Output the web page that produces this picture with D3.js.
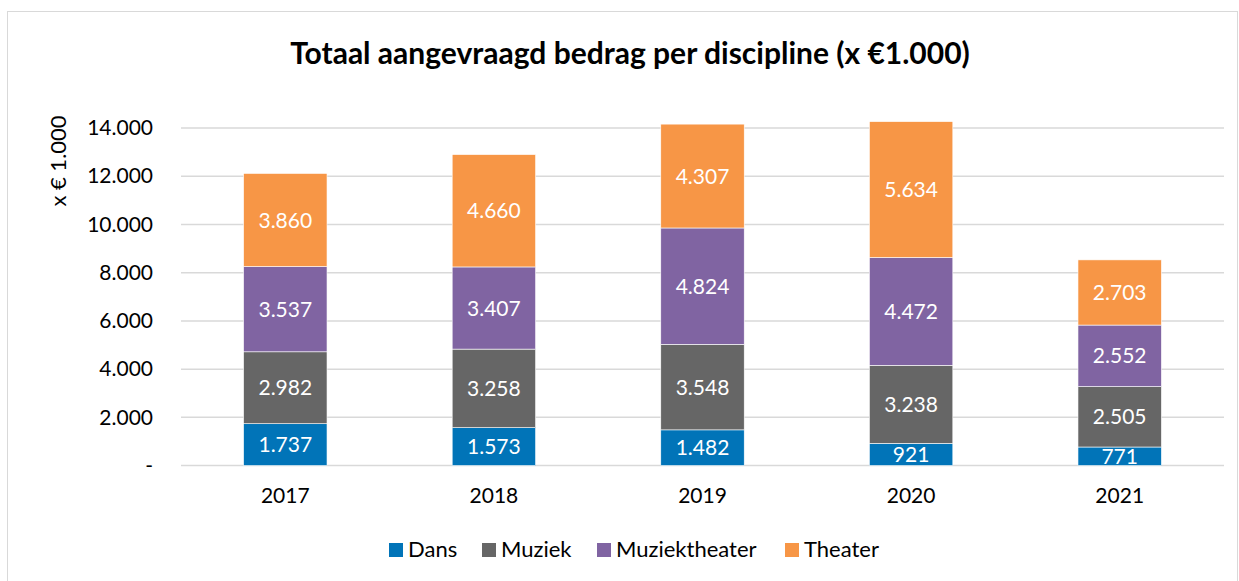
<!DOCTYPE html>
<html>
<head>
<meta charset="utf-8">
<script src="https://cdn.jsdelivr.net/npm/d3@7"></script>
<style>
    body { margin: 0; background: #fff; }
    svg { font-family: Lato, "Open Sans", sans-serif; }
</style>
</head>
<body>
<svg id="chart"></svg>
<script>
// data
var years = ["2017", "2018", "2019", "2020", "2021"];
var disciplines = ["Dans", "Muziek", "Muziektheater", "Theater"];
var dans = [1737, 1573, 1482, 921, 771];
var muziek = [2982, 3258, 3548, 3238, 2505];
var muziektheater = [3537, 3407, 4824, 4472, 2552];
var theater = [3860, 4660, 4307, 5634, 2703];
var yTicks = [0, 2000, 4000, 6000, 8000, 10000, 12000, 14000];
var colors = ["#0174b8", "#666666", "#8064a2", "#f79646"];

var W = 1239, H = 581;
var margin = {top: 128, right: 15, bottom: 116, left: 181};
var width = W - margin.left - margin.right,
    height = H - margin.top - margin.bottom;

var nl = d3.formatLocale({decimal: ",", thousands: ".", grouping: [3], currency: ["€", ""]});
var fmt = nl.format(",d");

var rows = years.map(function (y, i) {
    return {year: y, Dans: dans[i], Muziek: muziek[i], Muziektheater: muziektheater[i], Theater: theater[i]};
});
var stacked = d3.stack().keys(disciplines)(rows);

var svg = d3.select("#chart").attr("width", W).attr("height", H);

// chart border
svg.append("rect")
    .attr("x", 7.5).attr("y", 11.5)
    .attr("width", W - 9).attr("height", H)
    .attr("fill", "#fff").attr("stroke", "#d9d9d9");

var g = svg.append("g")
    .attr("transform", "translate(" + margin.left + "," + margin.top + ")");

var x = d3.scaleBand().domain(years).range([0, width])
    .paddingInner(0.6).paddingOuter(0.3);
var y = d3.scaleLinear().domain([0, 14000]).range([height + 0.6, 0]);

// gridlines
g.selectAll(".grid")
    .data(yTicks)
    .enter().append("line")
    .attr("x1", 0).attr("x2", width)
    .attr("y1", function (d) { return y(d); })
    .attr("y2", function (d) { return y(d); })
    .attr("stroke", "#d9d9d9").attr("stroke-width", 1.5);

// y axis labels
var yAxis = g.append("g")
    .call(d3.axisLeft(y).tickValues(yTicks).tickSize(0).tickPadding(28)
        .tickFormat(function (d) { return d === 0 ? "-" : fmt(d); }));
yAxis.select(".domain").remove();
yAxis.selectAll("text").attr("font-size", "21px").attr("fill", "#000")
    .attr("font-family", "Lato, sans-serif");

// x axis labels
var xAxis = g.append("g")
    .attr("transform", "translate(0," + height + ")")
    .call(d3.axisBottom(x).tickSize(0).tickPadding(23));
xAxis.select(".domain").remove();
xAxis.selectAll("text").attr("font-size", "21px").attr("fill", "#000")
    .attr("font-family", "Lato, sans-serif");

// stacked bars
var layers = g.selectAll(".layer")
    .data(stacked)
    .enter().append("g")
    .attr("fill", function (d, i) { return colors[i]; });

layers.selectAll("rect")
    .data(function (d) { return d; })
    .enter().append("rect")
    .attr("x", function (d) { return x(d.data.year); })
    .attr("y", function (d) { return y(d[1]); })
    .attr("width", x.bandwidth())
    .attr("height", function (d) { return y(d[0]) - y(d[1]); })
    .attr("stroke", "#fff").attr("stroke-width", 0.6);

// value labels
layers.selectAll("text")
    .data(function (d) { return d; })
    .enter().append("text")
    .attr("x", function (d) { return x(d.data.year) + x.bandwidth() / 2; })
    .attr("y", function (d) { return (y(d[0]) + y(d[1])) / 2; })
    .attr("dy", "0.36em")
    .attr("text-anchor", "middle")
    .attr("fill", "#fff")
    .attr("font-size", "21px")
    .text(function (d) { return fmt(d[1] - d[0]); });

// title
svg.append("text")
    .attr("x", 630).attr("y", 64)
    .attr("text-anchor", "middle")
    .attr("font-size", "30px")
    .attr("font-weight", "bold")
    .text("Totaal aangevraagd bedrag per discipline (x €1.000)");

// y axis title
svg.append("text")
    .attr("transform", "translate(66,161) rotate(-90)")
    .attr("text-anchor", "middle")
    .attr("font-size", "22px")
    .text("x € 1.000");

// legend
var legendX = [389, 482, 597, 785];
var legend = svg.selectAll(".legend")
    .data(disciplines)
    .enter().append("g")
    .attr("transform", function (d, i) { return "translate(" + legendX[i] + ",543)"; });
legend.append("rect")
    .attr("width", 14).attr("height", 14)
    .attr("fill", function (d, i) { return colors[i]; });
legend.append("text")
    .attr("x", 19).attr("y", 14)
    .attr("font-size", "22px")
    .text(function (d) { return d; });
</script>
</body>
</html>
